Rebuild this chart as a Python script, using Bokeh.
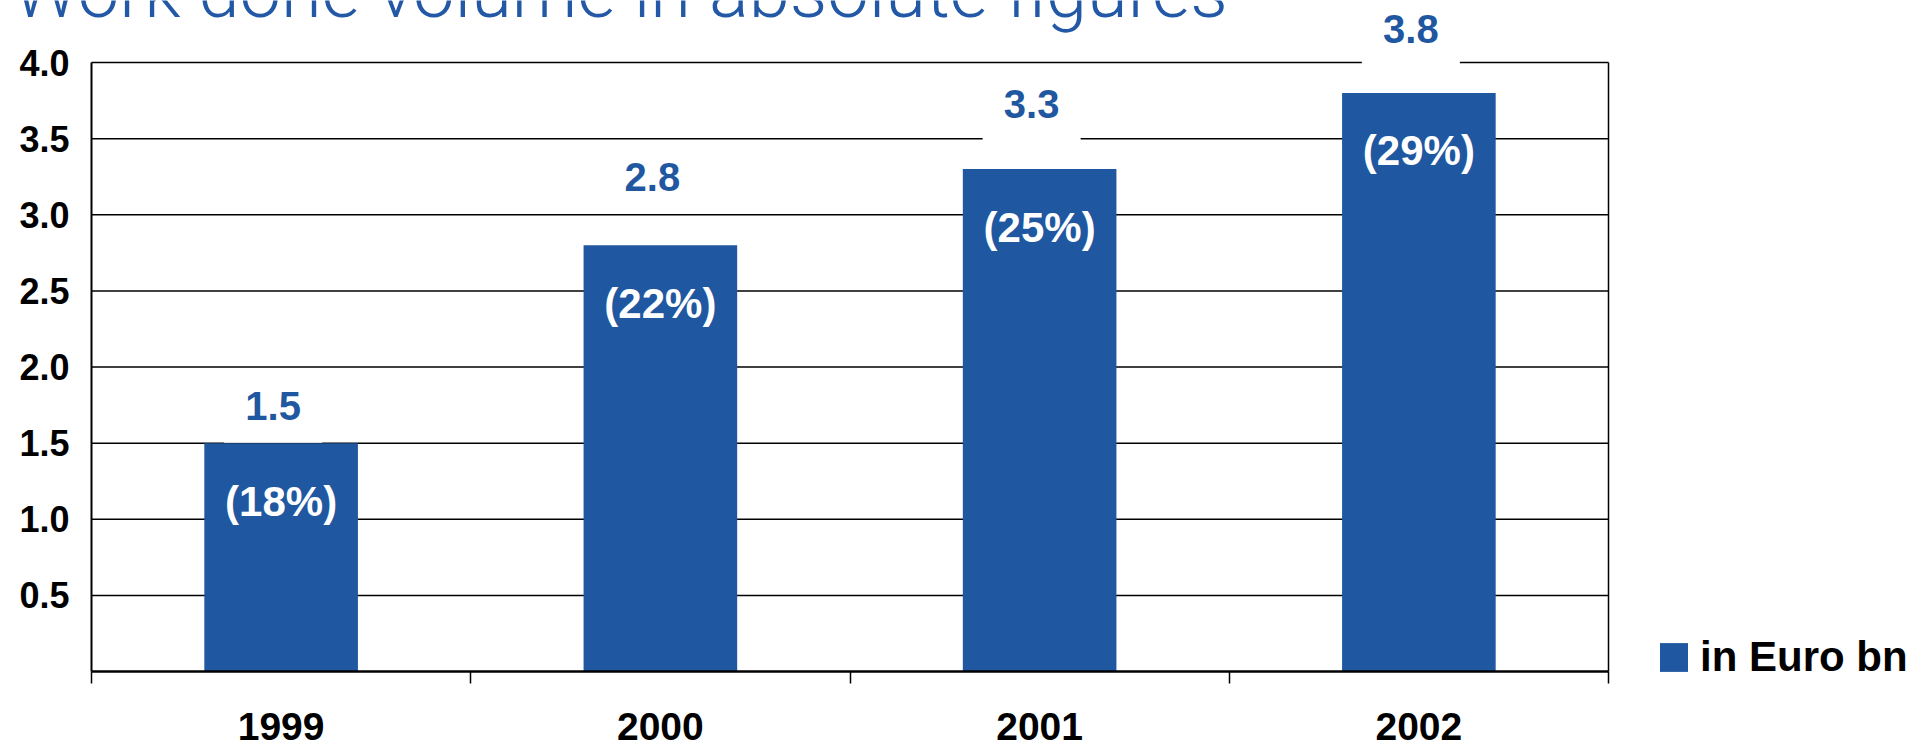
from bokeh.plotting import figure
from bokeh.models import (ColumnDataSource, LabelSet, Label, FixedTicker, LinearAxis,
                          Range1d, Legend, LegendItem)
from bokeh.core.properties import value
from bokeh.embed import file_html
from bokeh.resources import INLINE

# ---- data ----
title_text = "Work done volume in absolute figures"
years = ["1999", "2000", "2001", "2002"]
volume = [1.5, 2.8, 3.3, 3.8]
value_labels = ["1.5", "2.8", "3.3", "3.8"]
share_labels = ["(18%)", "(22%)", "(25%)", "(29%)"]
y_ticks = [0.5, 1.0, 1.5, 2.0, 2.5, 3.0, 3.5, 4.0]
y_tick_labels = ["0.5", "1.0", "1.5", "2.0", "2.5", "3.0", "3.5", "4.0"]
legend_label = "in Euro bn"

# ---- style / layout ----
BLUE = "#1f57a0"
TITLE_BLUE = "#2258a5"
FONT = "Liberation Sans"
TITLE_FONT = "'Roboto Light', 'Liberation Sans'"
W, H = 1930, 747                     # canvas size
FL, FR, FT, FB = 91, 1608, 62, 671   # plot box (x 0..n, y 0..max) in canvas px
value_label_lift = [37, 68, 65, 64]  # px above bar top for the value labels
VALUE_DX = -8                        # px horizontal shift of value labels
BOX_W, BOX_H = 98, 73                # white box behind value labels (px)

n = len(years)
ymax = y_ticks[-1]
px_x = (FR - FL) / n
px_y = (FB - FT) / ymax

x_pos = [i + 0.5 for i in range(n)]
bounds = list(range(n + 1))
src = ColumnDataSource(dict(x=x_pos, year=years, vol=volume, share=share_labels))

# value label anchor positions (derived from data + pixel offsets)
vl_x = [xi + VALUE_DX / px_x for xi in x_pos]
vl_y = [vi + lift / px_y for vi, lift in zip(volume, value_label_lift)]
vsrc = ColumnDataSource(dict(x=vl_x, y=vl_y, text=value_labels))

p = figure(width=W, height=H, output_backend="svg", toolbar_location=None,
           title=None, x_axis_type=None, y_axis_type=None,
           x_range=Range1d(-FL / px_x, (W - FL) / px_x),
           y_range=Range1d(-(H - FB) / px_y, ymax + FT / px_y),
           min_border=0)
p.outline_line_color = None
p.background_fill_color = "white"
p.border_fill_color = "white"

# horizontal grid lines across the plot box only (under everything)
p.segment(x0=0, x1=n, y0=y_ticks, y1=y_ticks, line_color="black", line_width=1.5,
          level="underlay")

# white boxes behind the value labels (interrupt the grid lines)
p.rect(x="x", y="y", width=BOX_W, height=BOX_H, width_units="screen",
       height_units="screen", source=vsrc, fill_color="white", line_color=None)

# bars
bars = p.vbar(x="x", top="vol", width=0.405, source=src,
              fill_color=BLUE, line_color=None)

# y axis at x = 0
yaxis = LinearAxis(fixed_location=0, bounds=(0, ymax),
                   ticker=FixedTicker(ticks=y_ticks),
                   major_label_overrides={t: l for t, l in zip(y_ticks, y_tick_labels)},
                   major_tick_out=0, major_tick_in=0, minor_tick_out=0, minor_tick_in=0,
                   major_label_standoff=22,
                   major_label_text_font=FONT, major_label_text_font_style="bold",
                   major_label_text_font_size="36px", major_label_text_color="black",
                   axis_line_color="black", axis_line_width=2)
p.add_layout(yaxis, "left")

# right border line at x = n
raxis = LinearAxis(fixed_location=n, bounds=(0, ymax), ticker=FixedTicker(ticks=[]),
                   major_tick_out=0, major_tick_in=0, minor_tick_out=0, minor_tick_in=0,
                   axis_line_color="black", axis_line_width=1.5)
p.add_layout(raxis, "right")

# x axis at y = 0: labels at category centres, ticks at category boundaries
xaxis = LinearAxis(fixed_location=0, bounds=(0, n),
                   ticker=FixedTicker(ticks=x_pos, minor_ticks=bounds),
                   major_label_overrides={c: y for c, y in zip(x_pos, years)},
                   major_tick_out=0, major_tick_in=0, major_tick_line_color=None,
                   minor_tick_out=12, minor_tick_in=0,
                   minor_tick_line_color="black", minor_tick_line_width=1.5,
                   major_label_standoff=29,
                   major_label_text_font=FONT, major_label_text_font_style="bold",
                   major_label_text_font_size="39px", major_label_text_color="black",
                   axis_line_color="black", axis_line_width=2.5)
p.add_layout(xaxis, "below")

# percentage labels inside bars
p.add_layout(LabelSet(x="x", y="vol", text="share", source=src, y_offset=-58,
                      text_align="center", text_baseline="middle",
                      text_font=value(FONT), text_font_style="bold",
                      text_font_size="42px", text_color="white", level="overlay"))

# value labels above bars
p.add_layout(LabelSet(x="x", y="y", text="text", source=vsrc,
                      text_align="center", text_baseline="middle",
                      text_font=value(FONT), text_font_style="bold",
                      text_font_size="40px", text_color=BLUE, level="overlay"))

# title (partly cut off at the top, as in the original)
p.add_layout(Label(x=0, y=ymax, x_offset=-79, y_offset=71, text=title_text,
                   text_align="left", text_baseline="middle",
                   text_font=TITLE_FONT, text_font_size="74px", text_color=TITLE_BLUE,
                   level="overlay"))

# legend
legend = Legend(items=[LegendItem(label=legend_label, renderers=[bars])],
                location=(1656, 66), glyph_width=35, glyph_height=36,
                label_standoff=9, padding=0, margin=0, spacing=0,
                border_line_color=None, background_fill_alpha=0,
                label_text_font=FONT, label_text_font_style="bold",
                label_text_font_size="42px", label_text_color="black")
p.add_layout(legend)

open("out.html", "w").write(file_html(p, INLINE))
